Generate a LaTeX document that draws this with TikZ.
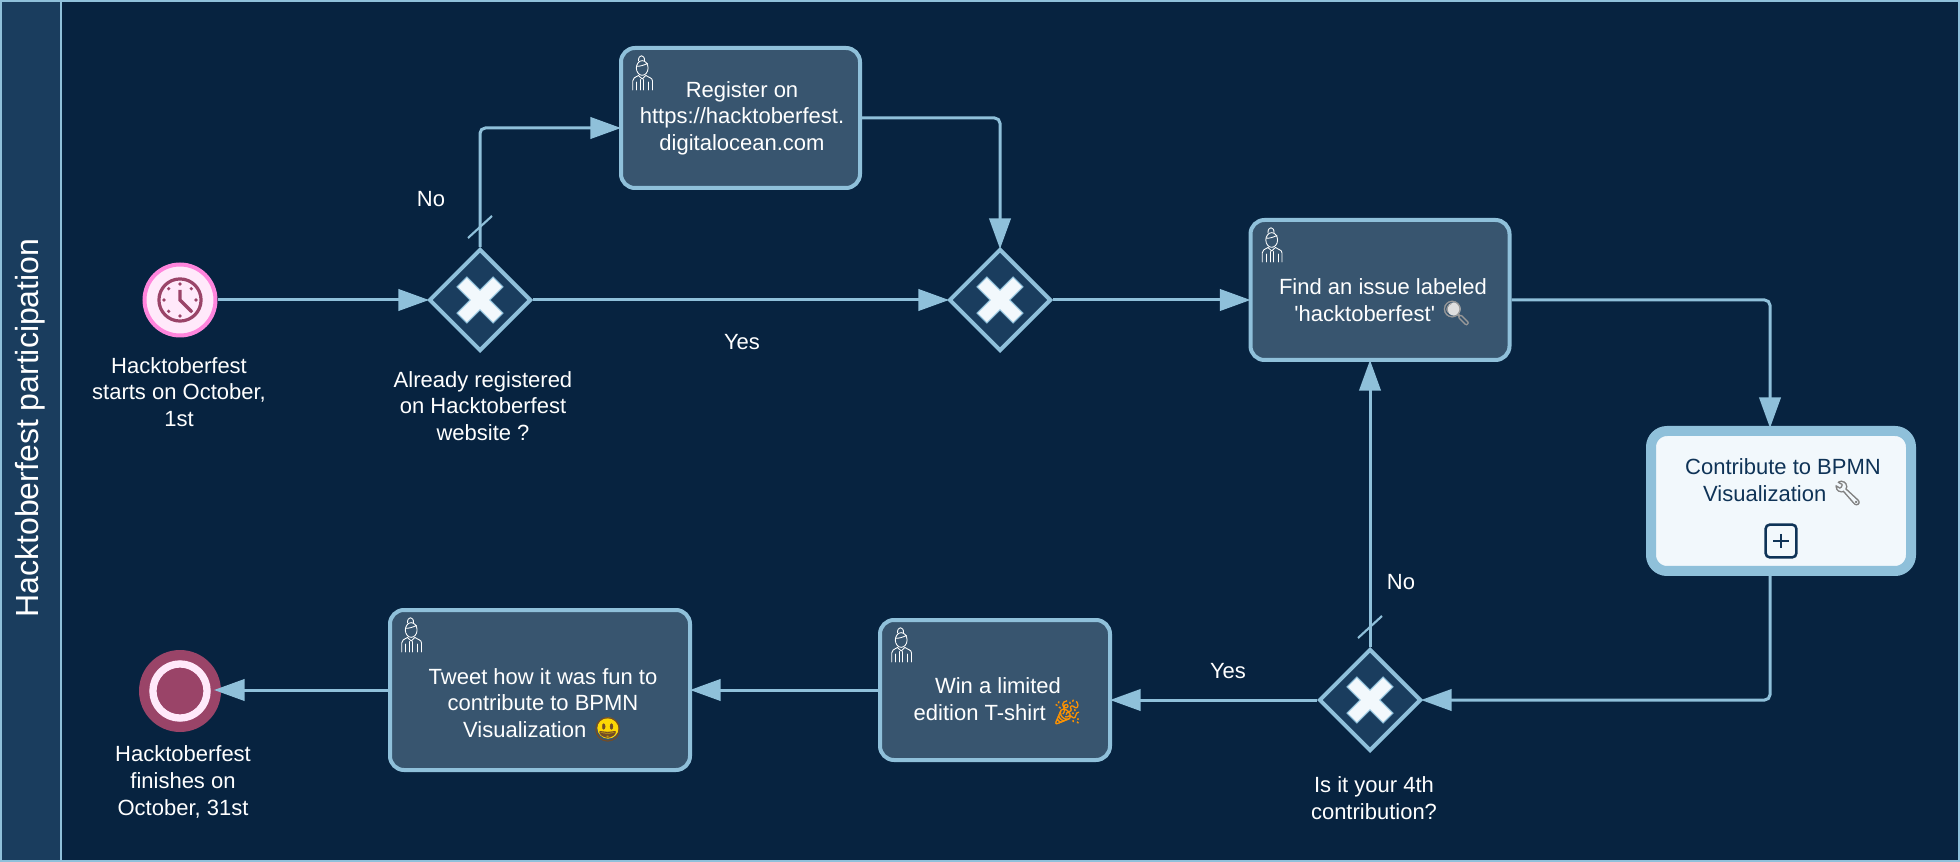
\documentclass[tikz,border=0pt]{standalone}
\usepackage{fontspec}
\usetikzlibrary{arrows.meta,shapes.geometric,calc}
\newfontfamily\labelfont{Liberation Sans}
\newfontfamily\emojifont[FakeBold=1.2]{Noto Emoji}
\definecolor{bgc}{HTML}{072340}
\definecolor{lanec}{HTML}{1A3D5E}
\definecolor{edgec}{HTML}{8FC0DA}
\definecolor{taskc}{HTML}{38556F}
\definecolor{paper}{HTML}{F2F8FC}
\definecolor{inkc}{HTML}{0F3357}
\definecolor{pinkring}{HTML}{FF85DC}
\definecolor{pinkfill}{HTML}{FFE9FA}
\definecolor{wine}{HTML}{9A4468}
\newcommand{\emo}[2]{\smash{\textcolor{#1}{\emojifont\fontsize{18}{20}\selectfont #2}}}
\tikzset{
  x=0.75pt,y=-0.75pt,
  txt/.style={text=white,align=center,inner sep=0pt,font=\labelfont\fontsize{16.5}{20}\selectfont},
  taskbox/.style={draw=edgec,fill=taskc,line width=3pt,rounded corners=10.5pt,rectangle,inner sep=0pt},
  gateway/.style={diamond,aspect=1,draw=edgec,fill=lanec,line width=3pt,inner sep=0pt,minimum width=76.5pt,minimum height=76.5pt},
  flow/.style={draw=edgec,line width=2.25pt,rounded corners=4pt,shorten >=-1.5pt,-{Triangle[length=23pt,width=16pt,fill=edgec]}},
  slashmark/.pic={\draw[edgec,line width=1.6pt] (-12,-62) -- (12,-84);},
  xmark/.pic={\draw[fill=paper,draw=edgec,line width=.8pt,rotate=45,line join=miter]
     (-7,-25.5) -- (7,-25.5) -- (7,-7) -- (25.5,-7) -- (25.5,7) -- (7,7) -- (7,25.5) -- (-7,25.5) -- (-7,7) -- (-25.5,7) -- (-25.5,-7) -- (-7,-7) -- cycle;},
  usericon/.pic={
    \begin{scope}[white,line width=.65pt,line cap=round,line join=round]
      \draw (19.5,15) .. controls (19,8) and (26,8) .. (25.5,15);
      \draw (23.2,22) ellipse [x radius=4.4pt,y radius=5.5pt];
      \draw (17.5,20) .. controls (20,21) and (25,19) .. (28.5,17.5);
      \draw (13.7,44) -- (13.7,35) .. controls (13.7,32) and (16,31.5) .. (19.5,29.5);
      \draw (33.5,44) -- (33.5,35) .. controls (33.5,32) and (30,31.5) .. (26.9,29.5);
      \draw (19.5,29.5) -- (23.2,33) -- (26.9,29.5);
      \draw (17.5,44) -- (17.5,36) (29.7,44) -- (29.7,36);
      \draw (21.7,44) -- (21.7,33.5) (24.7,44) -- (24.7,33.5);
    \end{scope}}
}
\begin{document}
\begin{tikzpicture}
\useasboundingbox (0,0) rectangle (1960,862);
\fill[bgc] (0,0) rectangle (1960,862);
\fill[lanec] (0,0) rectangle (61,862);
\draw[edgec,line width=1.5pt] (1,1) rectangle (1959,861);
\draw[edgec,line width=1.5pt] (61,1) -- (61,861);
\node[rotate=90,text=white,inner sep=0pt,font=\labelfont\fontsize{24}{28}\selectfont] (lanetitle) at (30,428) {Hacktoberfest participation};

% events
\node[circle,draw=pinkring,fill=pinkfill,line width=3pt,minimum size=53.25pt,inner sep=0pt] (start) at (180,300) {};
\begin{scope}[shift={(start)}]
  \draw[wine,line width=2.4pt] (0,0) circle[radius=15.8pt];
  \foreach \a in {0,45,...,315} \fill[wine] (\a:16) circle[radius=1.4pt];
  \draw[wine,line width=2.6pt] (0,-10) -- (0,0) -- (11.5,11.5);
\end{scope}
\node[circle,fill=wine,minimum size=61.5pt,inner sep=0pt] (finish) at (180,691) {};
\draw[pinkfill,line width=5.5pt] (finish) circle[radius=20.3pt];

% gateways
\node[gateway] (gw1) at (480,300) {};
\node[gateway] (gw2) at (1000,300) {};
\node[gateway] (gw3) at (1370,700) {};
\pic at (gw1) {xmark};
\pic at (gw2) {xmark};
\pic at (gw3) {xmark};
\pic at (gw1) {slashmark};
\pic at (gw3) {slashmark};

% tasks
\node[taskbox,minimum width=179.25pt,minimum height=105pt] (register) at (740.5,118) {};
\node[taskbox,minimum width=194.25pt,minimum height=105pt] (find) at (1380,290) {};
\node[taskbox,minimum width=172.5pt,minimum height=105pt] (win) at (995,690) {};
\node[taskbox,minimum width=225pt,minimum height=120pt] (tweet) at (540,690) {};
\node[rectangle,draw=edgec,fill=paper,line width=7.5pt,rounded corners=12pt,minimum width=195pt,minimum height=105pt,inner sep=0pt] (contribute) at (1781,501) {};
\pic at (register.north west) {usericon};
\pic at (find.north west) {usericon};
\pic at (win.north west) {usericon};
\pic at (tweet.north west) {usericon};

% marker
\node[rectangle,draw=inkc,line width=1.9pt,rounded corners=3pt,minimum width=23pt,minimum height=24.5pt,inner sep=0pt] (plusbox) at (1781,541) {};
\draw[inkc,line width=1.7pt] ($(plusbox)+(-8,0)$) -- ($(plusbox)+(8,0)$) ($(plusbox)+(0,-7)$) -- ($(plusbox)+(0,7)$);

% emoji backings
\fill[yellow!75!orange] (608,728) circle[radius=8pt];
\fill[gray!25] (1454,309) circle[radius=5pt];

% task texts
\node[txt] (registertext) at (742,118) {Register on\\https://hacktoberfest.\\digitalocean.com};
\node[txt] (findtext) at (1383,300) {Find an issue labeled\\'hacktoberfest' \emo{gray!80}{🔍}};
\node[txt,text=inkc] (contributetext) at (1783,480) {Contribute to BPMN\\Visualization \emo{gray}{🔧}};
\node[txt] (wintext) at (998,699) {Win a limited\\edition T-shirt \emo{orange!85!yellow}{🎉}};
\node[txt] (tweettext) at (543,703) {Tweet how it was fun to\\contribute to BPMN\\Visualization \emo{brown!60!black}{😃}};

% event and gateway labels
\node[txt] (startlabel) at (179,392) {Hacktoberfest\\starts on October,\\1st};
\node[txt] (gw1label) at (483,406) {Already registered\\on Hacktoberfest\\website ?};
\node[txt] (gw3label) at (1374,798) {Is it your 4th\\contribution?};
\node[txt] (finishlabel) at (183,782) {Hacktoberfest\\finishes on\\October, 31st};

% edge labels
\node[txt] (nolabel1) at (431,199) {No};
\node[txt] (yeslabel1) at (742,342) {Yes};
\node[txt] (nolabel2) at (1401,582) {No};
\node[txt] (yeslabel2) at (1228,671) {Yes};

% connectors
\coordinate (nobend) at (480,128);
\coordinate (regbend) at (1000,118);
\coordinate (findbend) at (1770,300);
\coordinate (subbend) at (1770,700);
\coordinate (finishin) at (216,690);
\draw[flow] (start.east) -- (gw1.west);
\draw[flow] (gw1.north) -- (nobend) -- (register.west |- nobend);
\draw[flow] (gw1.east) -- (gw2.west);
\draw[flow] (register.east) -- (regbend) -- (gw2.north);
\draw[flow] (gw2.east) -- (find.west |- gw2);
\draw[flow] (find.east |- findbend) -- (findbend) -- (contribute.north -| findbend);
\draw[flow] (contribute.south -| subbend) -- (subbend) -- (gw3.east);
\draw[flow] (gw3.north) -- (find.south -| gw3);
\draw[flow] (gw3.west) -- (win.east |- gw3);
\draw[flow] (win.west) -- (tweet.east);
\draw[flow] (tweet.west) -- (finishin);
\end{tikzpicture}
\end{document}
